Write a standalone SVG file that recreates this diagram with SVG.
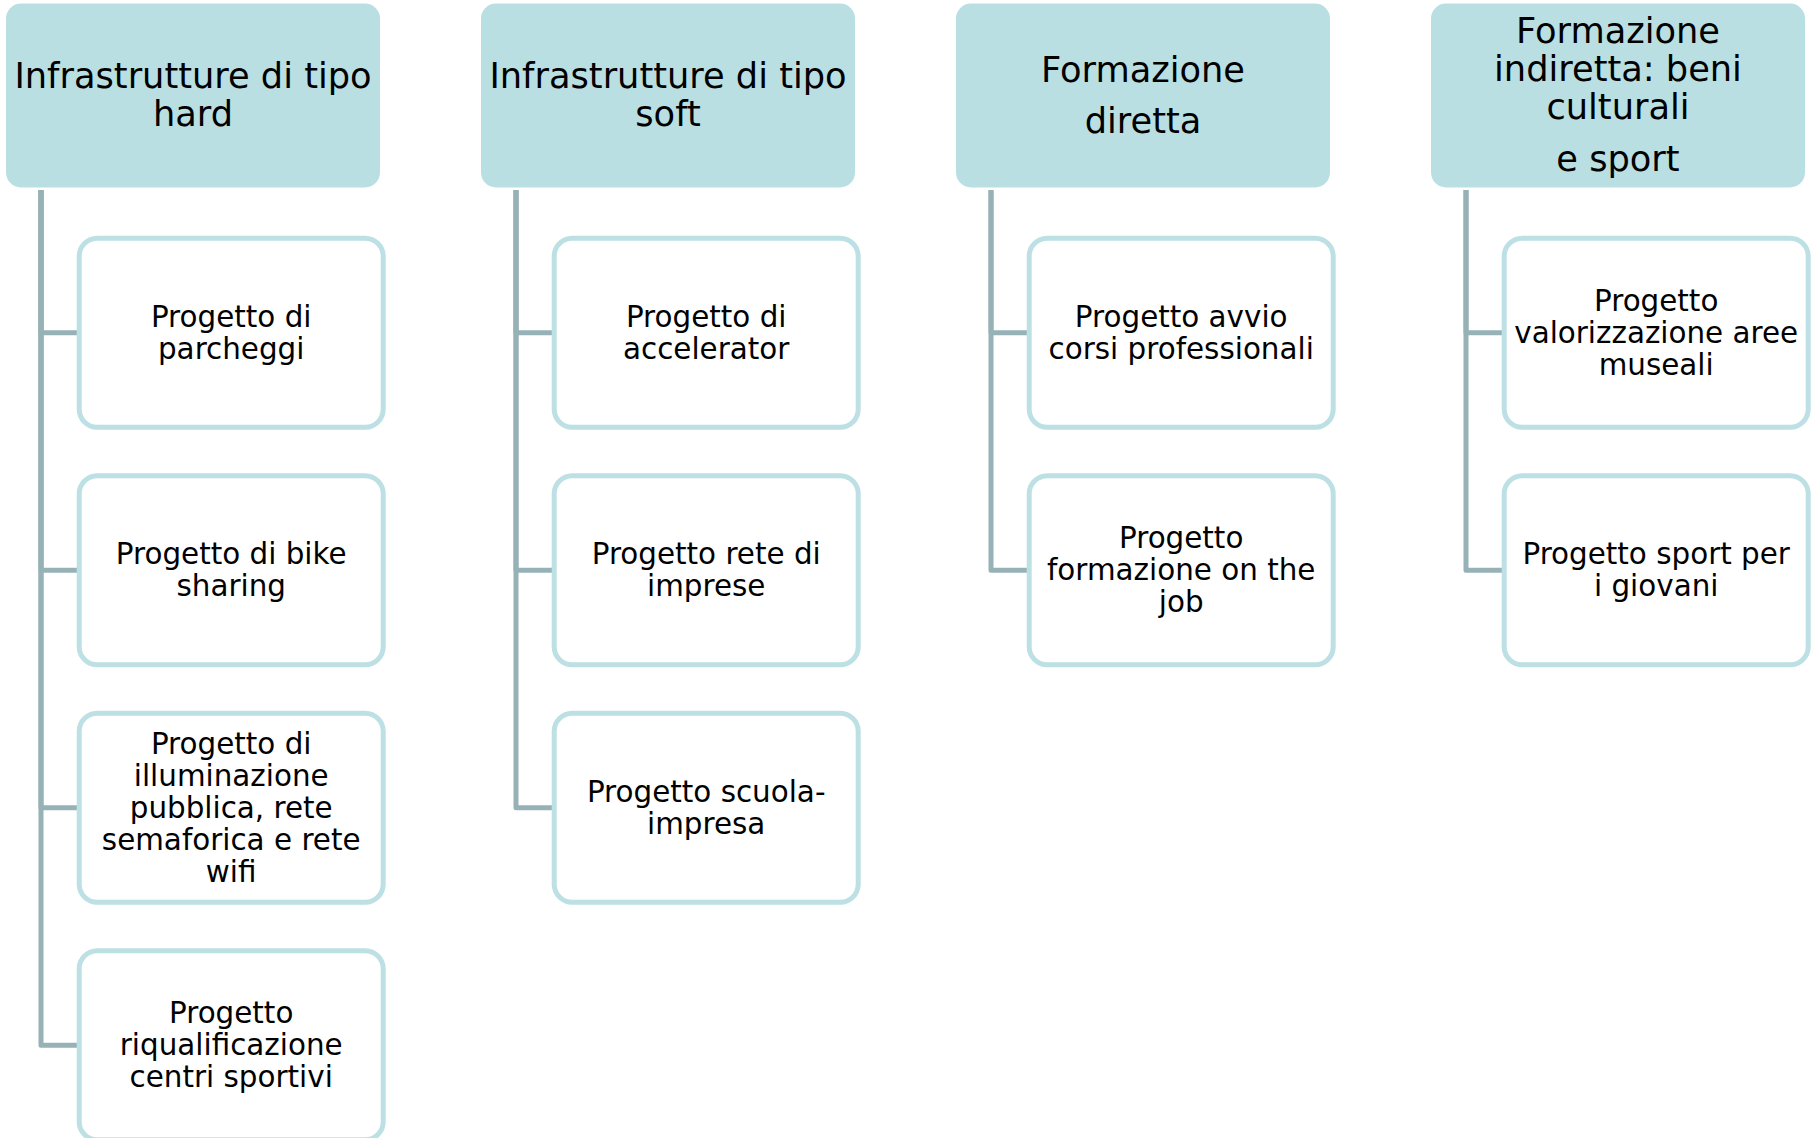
<svg xmlns="http://www.w3.org/2000/svg" width="1816" height="1138" viewBox="0 0 1816 1138">
<style>
.hdr{fill:#BADFE3;}
.box{fill:#FFFFFF;stroke:#BCE0E4;stroke-width:5;}
.conn{fill:none;stroke:#97B2B6;stroke-width:5;stroke-linejoin:round;}
.ht{font-family:"DejaVu Sans","Verdana",sans-serif;font-size:35.2px;fill:#000;text-anchor:middle;}
.ct{font-family:"DejaVu Sans","Verdana",sans-serif;font-size:29.4px;fill:#000;text-anchor:middle;}
</style>
<rect width="1816" height="1138" fill="#FFFFFF"/>
<g id="connectors">
<path class="conn" d="M41 190 V332.7 H79"/>
<path class="conn" d="M41 190 V570.2 H79"/>
<path class="conn" d="M41 190 V807.7 H79"/>
<path class="conn" d="M41 190 V1045.2 H79"/>
<path class="conn" d="M516 190 V332.7 H554"/>
<path class="conn" d="M516 190 V570.2 H554"/>
<path class="conn" d="M516 190 V807.7 H554"/>
<path class="conn" d="M991 190 V332.7 H1029"/>
<path class="conn" d="M991 190 V570.2 H1029"/>
<path class="conn" d="M1466 190 V332.7 H1504"/>
<path class="conn" d="M1466 190 V570.2 H1504"/>
</g>
<g id="h1"><rect class="hdr" x="6" y="3.5" width="374" height="184" rx="15"/>
<text class="ht"><tspan x="193" y="88.3">Infrastrutture di tipo</tspan><tspan x="193" y="126">hard</tspan></text></g>
<g id="h2"><rect class="hdr" x="481" y="3.5" width="374" height="184" rx="15"/>
<text class="ht"><tspan x="668" y="88.3">Infrastrutture di tipo</tspan><tspan x="668" y="126">soft</tspan></text></g>
<g id="h3"><rect class="hdr" x="956" y="3.5" width="374" height="184" rx="15"/>
<text class="ht"><tspan x="1143" y="81.7">Formazione</tspan><tspan x="1143" y="133.3">diretta</tspan></text></g>
<g id="h4"><rect class="hdr" x="1431" y="3.5" width="374" height="184" rx="15"/>
<text class="ht"><tspan x="1618" y="43.3">Formazione</tspan><tspan x="1618" y="81">indiretta: beni</tspan><tspan x="1618" y="119">culturali</tspan><tspan x="1618" y="171">e sport</tspan></text></g>

<g id="c1r1"><rect class="box" x="79.2" y="238.2" width="304" height="189" rx="18"/>
<text class="ct"><tspan x="231.2" y="326.7">Progetto di</tspan><tspan x="231.2" y="358.7">parcheggi</tspan></text></g>
<g id="c1r2"><rect class="box" x="79.2" y="475.7" width="304" height="189" rx="18"/>
<text class="ct"><tspan x="231.2" y="564.2">Progetto di bike</tspan><tspan x="231.2" y="596.2">sharing</tspan></text></g>
<g id="c1r3"><rect class="box" x="79.2" y="713.2" width="304" height="189" rx="18"/>
<text class="ct"><tspan x="231.2" y="753.7">Progetto di</tspan><tspan x="231.2" y="785.7">illuminazione</tspan><tspan x="231.2" y="817.7">pubblica, rete</tspan><tspan x="231.2" y="849.7">semaforica e rete</tspan><tspan x="231.2" y="881.7">wifi</tspan></text></g>
<g id="c1r4"><rect class="box" x="79.2" y="950.7" width="304" height="189" rx="18"/>
<text class="ct"><tspan x="231.2" y="1023.2">Progetto</tspan><tspan x="231.2" y="1055.2">riqualificazione</tspan><tspan x="231.2" y="1087.2">centri sportivi</tspan></text></g>

<g id="c2r1"><rect class="box" x="554.2" y="238.2" width="304" height="189" rx="18"/>
<text class="ct"><tspan x="706.2" y="326.7">Progetto di</tspan><tspan x="706.2" y="358.7">accelerator</tspan></text></g>
<g id="c2r2"><rect class="box" x="554.2" y="475.7" width="304" height="189" rx="18"/>
<text class="ct"><tspan x="706.2" y="564.2">Progetto rete di</tspan><tspan x="706.2" y="596.2">imprese</tspan></text></g>
<g id="c2r3"><rect class="box" x="554.2" y="713.2" width="304" height="189" rx="18"/>
<text class="ct"><tspan x="706.2" y="801.7">Progetto scuola-</tspan><tspan x="706.2" y="833.7">impresa</tspan></text></g>

<g id="c3r1"><rect class="box" x="1029.2" y="238.2" width="304" height="189" rx="18"/>
<text class="ct"><tspan x="1181.2" y="326.7">Progetto avvio</tspan><tspan x="1181.2" y="358.7">corsi professionali</tspan></text></g>
<g id="c3r2"><rect class="box" x="1029.2" y="475.7" width="304" height="189" rx="18"/>
<text class="ct"><tspan x="1181.2" y="548.2">Progetto</tspan><tspan x="1181.2" y="580.2">formazione on the</tspan><tspan x="1181.2" y="612.2">job</tspan></text></g>

<g id="c4r1"><rect class="box" x="1504.2" y="238.2" width="304" height="189" rx="18"/>
<text class="ct"><tspan x="1656.2" y="310.7">Progetto</tspan><tspan x="1656.2" y="342.7">valorizzazione aree</tspan><tspan x="1656.2" y="374.7">museali</tspan></text></g>
<g id="c4r2"><rect class="box" x="1504.2" y="475.7" width="304" height="189" rx="18"/>
<text class="ct"><tspan x="1656.2" y="564.2">Progetto sport per</tspan><tspan x="1656.2" y="596.2">i giovani</tspan></text></g>
</svg>
